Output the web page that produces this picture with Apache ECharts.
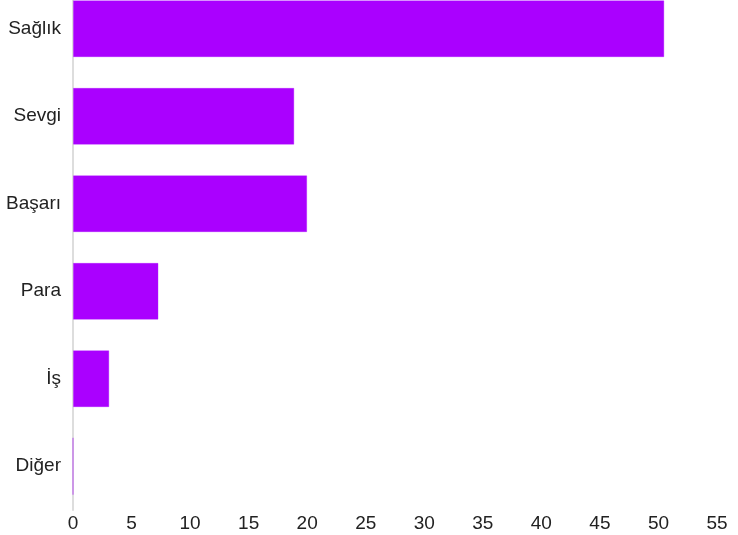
<!DOCTYPE html>
<html><head><meta charset="utf-8">
<script src="https://cdn.jsdelivr.net/npm/echarts@6/dist/echarts.min.js"></script>
<style>html,body{margin:0;padding:0;background:#fff;overflow:hidden}#c{position:absolute;left:0;top:-15px;width:738px;height:550px}</style>
</head><body><div id="c"></div>
<script>
const categories = ['Sağlık', 'Sevgi', 'Başarı', 'Para', 'İş', 'Diğer'];
const values = [50.5, 18.9, 20, 7.3, 3.1, 0];
const xTicks = { min: 0, max: 55, interval: 5 };

const chart = echarts.init(document.getElementById('c'), null, { renderer: 'canvas' });
const font = 'Liberation Sans, Arial, sans-serif';
chart.setOption({
  animation: false,
  grid: { left: 73, right: 21, top: 0, bottom: 25, containLabel: false },
  xAxis: {
    type: 'value', min: xTicks.min, max: xTicks.max, interval: xTicks.interval,
    axisLine: { show: false }, axisTick: { show: false }, splitLine: { show: false },
    axisLabel: { color: '#222', fontSize: 19, fontFamily: font, margin: 4 }
  },
  yAxis: {
    type: 'category', data: categories, inverse: true,
    axisLine: { show: true, lineStyle: { color: '#dddddd', width: 2 } },
    axisTick: { show: false },
    axisLabel: { color: '#222', fontSize: 19, fontFamily: font, margin: 12 }
  },
  series: [{
    type: 'bar', data: values, barCategoryGap: '35%',
    itemStyle: { color: '#aa00ff', borderColor: 'rgba(170,0,255,0.35)', borderWidth: 1 }
  }]
});
</script></body></html>
